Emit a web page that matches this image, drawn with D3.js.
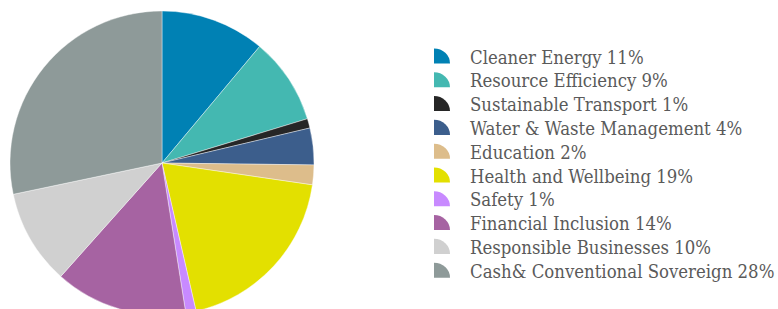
<!DOCTYPE html>
<html>
<head>
<meta charset="utf-8">
<script src="https://cdn.jsdelivr.net/npm/d3@7"></script>
<style>
  body { margin: 0; background: #fff; }
  svg { display: block; }
</style>
</head>
<body>
<svg width="778" height="309"></svg>
<script>
const categories = ["Cleaner Energy", "Resource Efficiency", "Sustainable Transport",
    "Water & Waste Management", "Education", "Health and Wellbeing", "Safety",
    "Financial Inclusion", "Responsible Businesses", "Cash& Conventional Sovereign"];
const values = [11.1, 9.2, 1.0, 3.9, 2.1, 19.1, 1.1, 14.1, 10.1, 28.3];
const pctLabels = ["11%", "9%", "1%", "4%", "2%", "19%", "1%", "14%", "10%", "28%"];
const colors = ["#0081b4", "#44b8b1", "#262626", "#3c5e8c", "#ddbd8b",
    "#e3e000", "#c88aff", "#a663a2", "#d0d0d0", "#8e9a99"];

const svg = d3.select("svg");
const cx = 162, cy = 163, r = 152;

const data = categories.map((c, i) => ({name: c, value: values[i], pct: pctLabels[i], color: colors[i]}));

const pie = d3.pie().sort(null).value(d => d.value);
const arc = d3.arc().innerRadius(0).outerRadius(r);

const g = svg.append("g").attr("transform", "translate(" + cx + "," + cy + ")");
g.selectAll("path")
    .data(pie(data))
    .enter()
    .append("path")
    .attr("d", arc)
    .attr("fill", d => d.data.color)
    .attr("stroke", "#fff")
    .attr("stroke-width", 0.4);

// legend
const legend = svg.append("g").attr("transform", "translate(434,63.5)");
const rowH = 23.8;
const icon = d3.arc().innerRadius(0).outerRadius(16).startAngle(0).endAngle(Math.PI / 2);

const rows = legend.selectAll("g")
    .data(data)
    .enter()
    .append("g")
    .attr("transform", (d, i) => "translate(0," + (i * rowH) + ")");

rows.append("path")
    .attr("d", icon)
    .attr("transform", "scale(1,0.94)")
    .attr("fill", d => d.color);

rows.append("text")
    .attr("x", 36)
    .attr("y", 0)
    .attr("font-family", "'DejaVu Serif Condensed', 'DejaVu Serif', serif")
    .attr("font-stretch", "condensed")
    .attr("font-size", 18.4)
    .attr("fill", "#5a5a5a")
    .text(d => d.name + " " + d.pct);
</script>
</body>
</html>
